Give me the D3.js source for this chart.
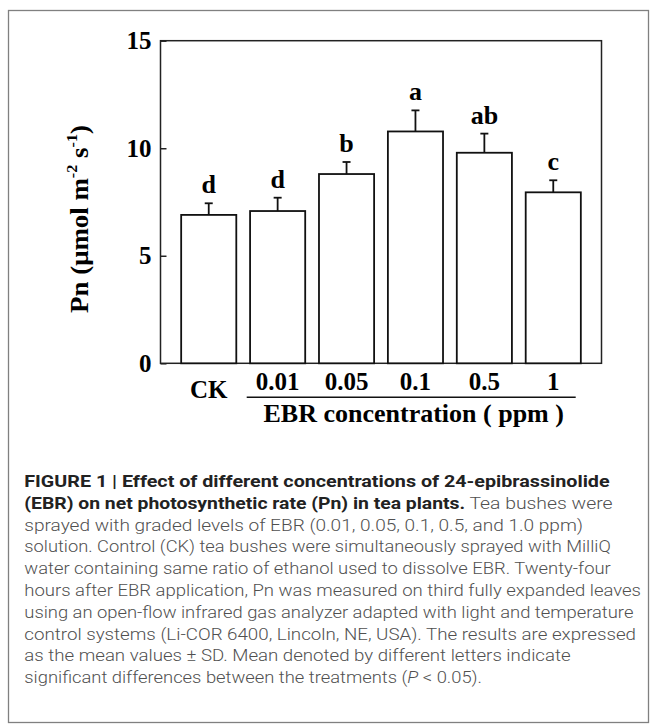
<!DOCTYPE html>
<html>
<head>
<meta charset="utf-8">
<script src="https://cdn.jsdelivr.net/npm/d3@7"></script>
<style>
  body { margin: 0; background: #fff; }
  svg { display: block; }
</style>
</head>
<body>
<script>
// treatments (EBR concentration, ppm) and measured Pn
var categories = ['CK', '0.01', '0.05', '0.1', '0.5', '1'];
var pnMean = [6.90, 7.08, 8.80, 10.78, 9.79, 7.95];
var pnSD = [0.54, 0.62, 0.56, 0.98, 0.89, 0.56];
var sigLetters = ['d', 'd', 'b', 'a', 'ab', 'c'];
var yTicks = [0, 5, 10, 15];

var W = 657, H = 727;
var svg = d3.select('body')
  .append('svg')
  .attr('width', W)
  .attr('height', H);

// outer frame of the figure
svg.append('rect')
  .attr('x', 8.5).attr('y', 10.5)
  .attr('width', 640).attr('height', 712)
  .attr('fill', 'none')
  .attr('stroke', '#808080')
  .attr('stroke-width', 1.3);

var frame = {left: 160.5, right: 601.5, top: 40.7, bottom: 363.3};

var x = d3.scaleBand()
  .domain(categories)
  .range([frame.left, frame.right])
  .paddingInner(0.2)
  .paddingOuter(0.3);

var y = d3.scaleLinear()
  .domain([0, 15])
  .range([frame.bottom, frame.top]);

var serif = '"Liberation Serif", "Times New Roman", serif';

// plot box
svg.append('rect')
  .attr('x', frame.left).attr('y', frame.top)
  .attr('width', frame.right - frame.left)
  .attr('height', frame.bottom - frame.top)
  .attr('fill', 'none')
  .attr('stroke', '#222')
  .attr('stroke-width', 1.5);

// y axis, ticks pointing inwards
var yAxis = svg.append('g')
  .attr('transform', 'translate(' + frame.left + ',0)')
  .call(d3.axisRight(y).tickValues(yTicks).tickSize(6).tickFormat(''));
yAxis.select('.domain').remove();
yAxis.selectAll('line').attr('stroke', '#222').attr('stroke-width', 1.5);

svg.selectAll('text.ytick')
  .data(yTicks)
  .enter().append('text')
  .attr('class', 'ytick')
  .attr('x', frame.left - 9)
  .attr('y', function(d) { return y(d); })
  .attr('dy', '0.34em')
  .attr('text-anchor', 'end')
  .attr('font-family', serif)
  .attr('font-weight', 'bold')
  .attr('font-size', 25)
  .text(function(d) { return d; });

// x axis ticks at bar centres, inwards
var xAxis = svg.append('g')
  .attr('transform', 'translate(0,' + frame.bottom + ')')
  .call(d3.axisTop(x).tickSize(6).tickFormat(''));
xAxis.select('.domain').remove();
xAxis.selectAll('line').attr('stroke', '#222').attr('stroke-width', 1.5);

// bars
svg.selectAll('rect.bar')
  .data(pnMean)
  .enter().append('rect')
  .attr('class', 'bar')
  .attr('x', function(d, i) { return x(categories[i]); })
  .attr('y', function(d) { return y(d); })
  .attr('width', x.bandwidth())
  .attr('height', function(d) { return y(0) - y(d); })
  .attr('fill', '#fff')
  .attr('stroke', '#111')
  .attr('stroke-width', 1.8);

// error bars (upper half only)
var cx = function(i) { return x(categories[i]) + x.bandwidth() / 2; };
svg.selectAll('line.err')
  .data(pnMean)
  .enter().append('line')
  .attr('class', 'err')
  .attr('x1', function(d, i) { return cx(i); })
  .attr('x2', function(d, i) { return cx(i); })
  .attr('y1', function(d) { return y(d); })
  .attr('y2', function(d, i) { return y(d + pnSD[i]); })
  .attr('stroke', '#111')
  .attr('stroke-width', 1.8);

svg.selectAll('line.cap')
  .data(pnMean)
  .enter().append('line')
  .attr('class', 'cap')
  .attr('x1', function(d, i) { return cx(i) - 4; })
  .attr('x2', function(d, i) { return cx(i) + 4; })
  .attr('y1', function(d, i) { return y(d + pnSD[i]); })
  .attr('y2', function(d, i) { return y(d + pnSD[i]); })
  .attr('stroke', '#111')
  .attr('stroke-width', 1.8);

// significance letters
svg.selectAll('text.sig')
  .data(sigLetters)
  .enter().append('text')
  .attr('class', 'sig')
  .attr('x', function(d, i) { return cx(i); })
  .attr('y', function(d, i) { return y(pnMean[i] + pnSD[i]) - 10; })
  .attr('text-anchor', 'middle')
  .attr('font-family', serif)
  .attr('font-weight', 'bold')
  .attr('font-size', 26)
  .text(function(d) { return d; });

// category labels, CK sits a little lower
svg.selectAll('text.xlab')
  .data(categories)
  .enter().append('text')
  .attr('class', 'xlab')
  .attr('x', function(d) { return x(d) + x.bandwidth() / 2; })
  .attr('y', function(d, i) { return i === 0 ? 398 : 390; })
  .attr('text-anchor', 'middle')
  .attr('font-family', serif)
  .attr('font-weight', 'bold')
  .attr('font-size', 25)
  .text(function(d) { return d; });

// line grouping the EBR treatments
svg.append('line')
  .attr('x1', 246.7).attr('x2', 575.7)
  .attr('y1', 397.3).attr('y2', 397.3)
  .attr('stroke', '#111')
  .attr('stroke-width', 1.6);

svg.append('text')
  .attr('x', 413.7)
  .attr('y', 421.7)
  .attr('text-anchor', 'middle')
  .attr('font-family', serif)
  .attr('font-weight', 'bold')
  .attr('font-size', 26)
  .text('EBR concentration ( ppm )');

// y axis title
var yt = svg.append('text')
  .attr('font-family', serif)
  .attr('font-weight', 'bold')
  .attr('font-size', 25)
  .attr('text-anchor', 'middle');
yt.append('tspan').text('Pn (\u03bcmol m');
yt.append('tspan').attr('font-size', 15).attr('dy', -11).text('-2');
yt.append('tspan').attr('dy', 11).text(' s');
yt.append('tspan').attr('font-size', 15).attr('dy', -11).text('-1');
yt.append('tspan').attr('dy', 11).text(')');
var ytLen = yt.node().getComputedTextLength();
var ytScale = 188 / ytLen;
yt.attr('transform', 'translate(88,219) scale(1,' + ytScale + ') rotate(-90)');

// caption
var capLines = [
  [['b', 'FIGURE 1 | Effect of different concentrations of 24-epibrassinolide']],
  [['b', '(EBR) on net photosynthetic rate (Pn) in tea plants.'], ['n', ' Tea bushes were']],
  [['n', 'sprayed with graded levels of EBR (0.01, 0.05, 0.1, 0.5, and 1.0 ppm)']],
  [['n', 'solution. Control (CK) tea bushes were simultaneously sprayed with MilliQ']],
  [['n', 'water containing same ratio of ethanol used to dissolve EBR. Twenty-four']],
  [['n', 'hours after EBR application, Pn was measured on third fully expanded leaves']],
  [['n', 'using an open-flow infrared gas analyzer adapted with light and temperature']],
  [['n', 'control systems (Li-COR 6400, Lincoln, NE, USA). The results are expressed']],
  [['n', 'as the mean values \u00b1 SD. Mean denoted by different letters indicate']],
  [['n', 'significant differences between the treatments ('], ['i', 'P'], ['n', ' < 0.05).']]
];
var capRight = [609.6, 612.5, 583, 610.8, 610.8, 641, 633.4, 636, 570.6, 482];

var cap = svg.append('g')
  .attr('font-family', 'Roboto, "Liberation Sans", Arial, sans-serif')
  .attr('font-size', 16);

capLines.forEach(function(parts, i) {
  var t = cap.append('text')
    .attr('x', 24.3)
    .attr('y', 487 + i * 21.8)
    .attr('textLength', capRight[i] - 24.3)
    .attr('lengthAdjust', 'spacingAndGlyphs');
  parts.forEach(function(p) {
    t.append('tspan')
      .attr('fill', p[0] === 'b' ? '#222' : '#505050')
      .attr('font-weight', p[0] === 'b' ? 'bold' : 300)
      .attr('font-style', p[0] === 'i' ? 'italic' : 'normal')
      .text(p[1]);
  });
});
</script>
</body>
</html>
